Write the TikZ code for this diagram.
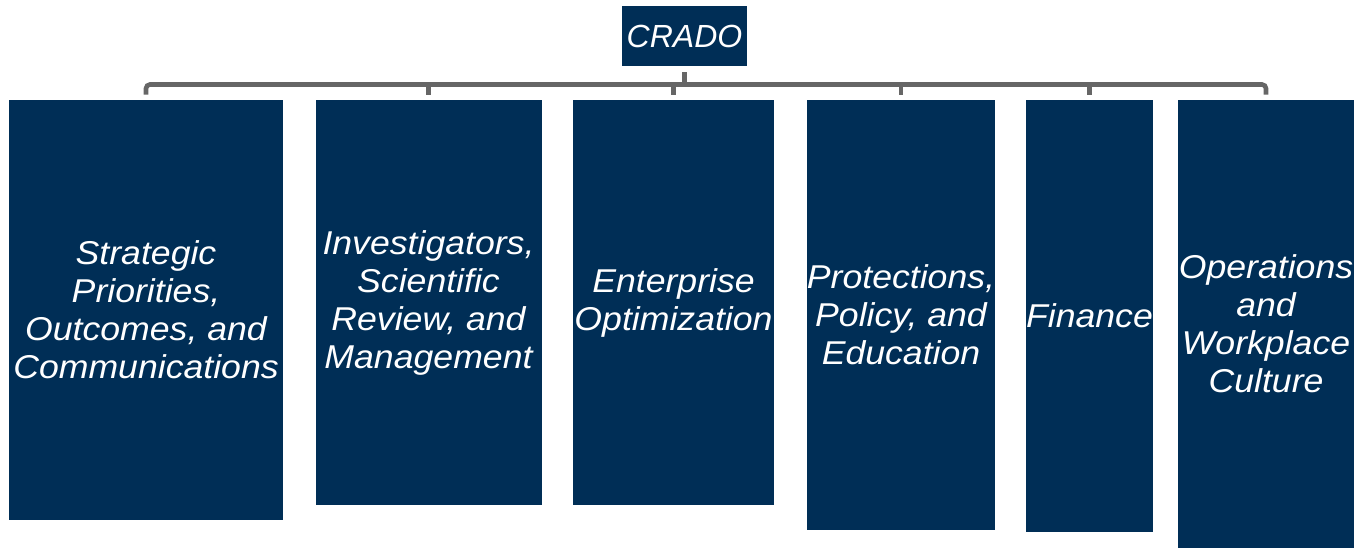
\documentclass[tikz,border=0pt]{standalone}
\usepackage{fontspec}
\setmainfont{Liberation Sans}
\newfontfamily\boxfont[FakeStretch=1.08]{Liberation Sans}
\definecolor{navy}{RGB}{0,46,86}
\definecolor{linegray}{RGB}{102,102,102}
\tikzset{
  unit/.style = {draw = none, fill = navy, text = white, inner sep = 0pt, align = center,
    font = \boxfont\itshape\fontsize{16.5}{19}\selectfont},
  conn/.style = {draw = linegray, line width = 2.3pt}
}

\begin{document}
\begin{tikzpicture} [x = 0.5pt, y = -0.5pt]
\useasboundingbox (0, 0) rectangle (1371, 547);
% top box
\node[unit, minimum width = 62.5pt, minimum height = 30pt, font = \itshape\fontsize{16}{19}\selectfont] (crado) at (684.5, 36){CRADO};
% the six units
\node[unit, minimum width = 137pt, minimum height = 210pt] (strat) at (146, 310){Strategic\\Priorities,\\Outcomes, and\\Communications};
\node[unit, minimum width = 113pt, minimum height = 202.5pt] (invest) at (428.5, 302.5){Investigators,\\Scientific\\Review, and\\Management};
\node[unit, minimum width = 100.5pt, minimum height = 202.5pt] (enter) at (673.5, 302.5){Enterprise\\Optimization};
\node[unit, minimum width = 93pt, minimum height = 215pt] (protect) at (901, 315){Protections,\\Policy, and\\Education};
\node[unit, minimum width = 62.5pt, minimum height = 216pt] (fin) at (1089.5, 316){Finance};
\node[unit, minimum width = 88pt, minimum height = 224pt] (oper) at (1266, 324){Operations\\and\\Workplace\\Culture};
% connectors
\coordinate (bus) at (684.5, 84.5);
\draw[conn] ([yshift = -3pt]crado.south) -- (crado.south |- bus);
\draw[conn, rounded corners = 2pt] ([yshift = 2.5pt]strat.north) -- (strat.north |- bus) -- (oper.north |- bus) -- ([yshift = 2.5pt]oper.north);
\foreach \n in {invest, enter, protect, fin}
  \draw[conn] ([yshift = 2.5pt]\n.north) -- (\n.north |- bus);
\end{tikzpicture}
\end{document}
